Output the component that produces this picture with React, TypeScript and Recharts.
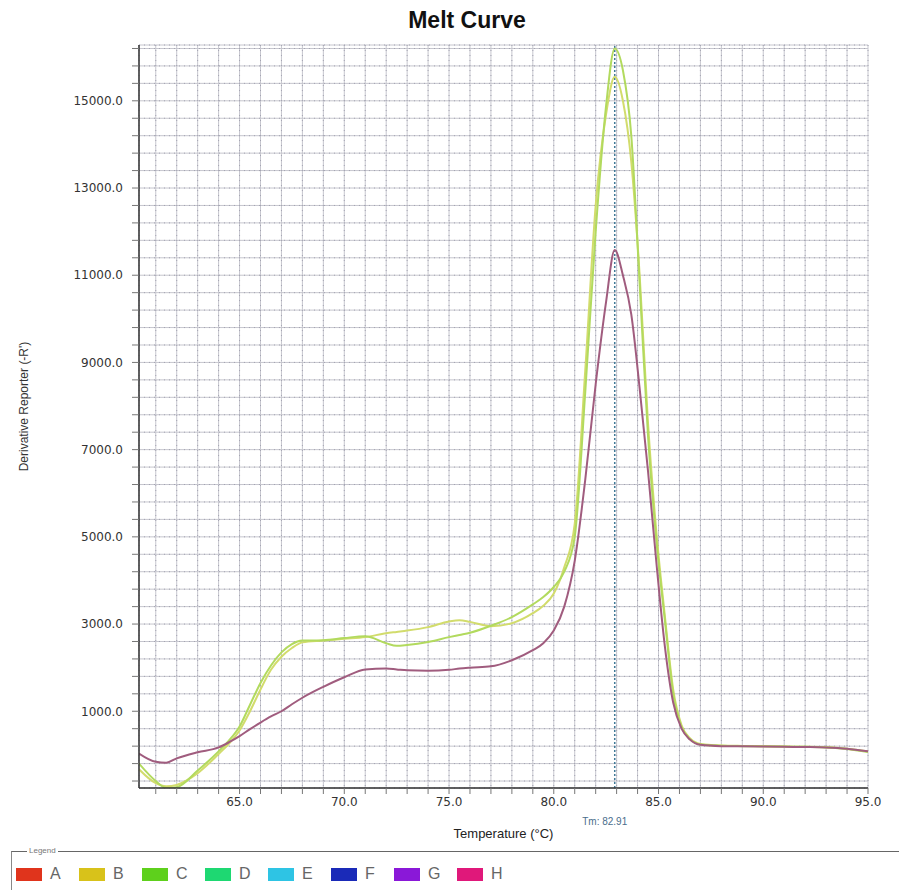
import { LineChart, Line, XAxis, YAxis, CartesianGrid, ReferenceLine } from 'recharts'

// temperature (°C) of each reading
const temps = [
  60.2, 61, 61.5, 62, 63, 64, 64.5, 65, 65.5, 66, 66.5, 67, 67.5, 68, 69, 70, 71, 72, 72.5, 73,
  74, 75, 75.5, 76, 77, 78, 79, 79.5, 80, 80.5, 81, 81.5, 82, 82.5, 82.91, 83.3, 83.7, 84.1, 84.5,
  84.9, 85.3, 85.7, 86.1, 86.5, 87, 88, 89, 90, 91, 92, 93, 94, 95
]

// derivative reporter (-R') for the three traces
const traceYellow = [
  -330, -650, -720, -690, -420, 20, 260, 560, 1000, 1500, 1950, 2250, 2450, 2580, 2620, 2660, 2700,
  2790, 2820, 2850, 2930, 3060, 3090, 3050, 2950, 3020, 3250, 3420, 3700, 4300, 5300, 8800, 12600,
  14700, 15550, 15000, 13600, 11000, 7600, 5100, 3200, 1500, 680, 380, 250, 215, 205, 200, 190, 185,
  175, 140, 75
]
const traceGreen = [
  -200, -600, -760, -740, -360, 80, 330, 650, 1150, 1650, 2050, 2350, 2540, 2620, 2630, 2680, 2720,
  2560, 2500, 2520, 2590, 2700, 2750, 2800, 2960, 3160, 3450, 3620, 3850, 4200, 5000, 8300, 12000,
  14900, 16200, 15700, 14200, 10800, 7300, 4900, 3100, 1400, 640, 360, 240, 210, 200, 195, 190, 185,
  170, 135, 65
]
const tracePurple = [
  30, -160, -180, -80, 60, 170, 290, 430, 590, 740, 880, 1000, 1160, 1310, 1560, 1780, 1960, 1980,
  1960, 1940, 1930, 1950, 1980, 2000, 2030, 2170, 2400, 2560, 2850, 3400, 4450, 6300, 8500, 10400,
  11580, 11000, 10100, 8400, 6500, 4400, 2500, 1200, 600, 350, 230, 200, 195, 190, 185, 180, 170,
  140, 80
]

const tmValue = 82.91

const xTicks = [
  61, 62, 63, 64, 65, 66, 67, 68, 69, 70, 71, 72, 73, 74, 75, 76, 77, 78, 79, 80, 81, 82, 83, 84,
  85, 86, 87, 88, 89, 90, 91, 92, 93, 94, 95
]
const xLabels = [65, 70, 75, 80, 85, 90, 95]

const yTicks = [
  -600, -200, 200, 600, 1000, 1400, 1800, 2200, 2600, 3000, 3400, 3800, 4200, 4600, 5000, 5400,
  5800, 6200, 6600, 7000, 7400, 7800, 8200, 8600, 9000, 9400, 9800, 10200, 10600, 11000, 11400,
  11800, 12200, 12600, 13000, 13400, 13800, 14200, 14600, 15000, 15400, 15800, 16200
]
const yLabels = [1000, 3000, 5000, 7000, 9000, 11000, 13000, 15000]

const wells = ['A', 'B', 'C', 'D', 'E', 'F', 'G', 'H']
const wellColors = ['#e0341c', '#d8c21a', '#5ed01c', '#1ed872', '#2ec4e4', '#1a2ab8', '#8a18d8', '#e0187a']

const rows = temps.map((t, i) => ({
  t,
  yellow: traceYellow[i],
  green: traceGreen[i],
  purple: tracePurple[i]
}))

const xDomain = [60.2, 95]
const yDomain = [-760, 16280]

const tickFont = { fontSize: 12, fill: '#333', fontFamily: 'DejaVu Sans' }
const frame = { stroke: '#333', strokeWidth: 1.5 }

function App() {
  return (
    <div
      style={{
        position: 'relative',
        marginLeft: -2,
        marginTop: -2,
        width: 905,
        height: 882,
        borderLeft: '2px solid #111',
        borderTop: '2px solid #111',
        overflow: 'hidden',
        background: '#fff',
        fontFamily: 'Liberation Sans, Arial, sans-serif'
      }}
    >
      <div
        style={{
          position: 'absolute',
          left: 459,
          top: 0,
          transform: 'translateX(-50%)',
          fontSize: 23,
          lineHeight: '24px',
          fontWeight: 'bold',
          color: '#111',
          whiteSpace: 'nowrap'
        }}
      >
        Melt Curve
      </div>

      <div style={{ position: 'absolute', left: 0, top: 0 }}>
        <LineChart width={892} height={840} data={rows} margin={{ top: 37, right: 32, bottom: 10, left: 0 }}>
          <CartesianGrid stroke="#c6c6ce" />
          <CartesianGrid stroke="#a4a4b2" strokeDasharray="1 4" />

          <XAxis
            dataKey="t"
            type="number"
            domain={xDomain}
            allowDataOverflow
            ticks={xTicks}
            interval={0}
            tickFormatter={(v: number) => (xLabels.includes(v) ? v.toFixed(1) : '')}
            height={50}
            tickSize={6}
            tickMargin={3}
            tick={tickFont}
            tickLine={{ stroke: '#777' }}
            axisLine={frame}
            label={{ value: 'Temperature (°C)', position: 'insideBottom', offset: 0, fontSize: 13, fill: '#222' }}
          />
          <XAxis xAxisId="top" orientation="top" type="number" domain={xDomain} height={0} tick={false} tickLine={false} axisLine={frame} />

          <YAxis
            type="number"
            domain={yDomain}
            allowDataOverflow
            ticks={yTicks}
            interval={0}
            tickFormatter={(v: number) => (yLabels.includes(v) ? v.toFixed(1) : '')}
            width={131}
            tickSize={7}
            tickMargin={9}
            tick={tickFont}
            tickLine={{ stroke: '#777' }}
            axisLine={frame}
            label={{
              value: "Derivative Reporter (-R')",
              angle: -90,
              position: 'insideLeft',
              offset: 16,
              dy: -10,
              fontSize: 12,
              fill: '#333',
              style: { textAnchor: 'middle' }
            }}
          />
          <YAxis yAxisId="right" orientation="right" type="number" domain={yDomain} width={0} tick={false} tickLine={false} axisLine={frame} />

          <ReferenceLine
            x={tmValue}
            stroke="#3f7896"
            strokeWidth={1.5}
            strokeDasharray="2 2"
            label={{ value: 'Tm: 82.91', position: 'bottom', offset: 30, dx: -10, fontSize: 10, fill: '#4a6e8c' }}
          />

          <Line type="monotone" dataKey="yellow" stroke="#d2dc6c" strokeWidth={2} dot={false} isAnimationActive={false} />
          <Line type="monotone" dataKey="green" stroke="#b2da5e" strokeWidth={2} dot={false} isAnimationActive={false} />
          <Line type="monotone" dataKey="purple" stroke="#a05c7e" strokeWidth={2} dot={false} isAnimationActive={false} />
        </LineChart>
      </div>

      {/* legend frame */}
      <div
        style={{
          position: 'absolute',
          left: 3,
          top: 843,
          width: 900,
          height: 40,
          borderTop: '1px solid #666',
          borderLeft: '1px solid #888'
        }}
      />
      <div
        style={{
          position: 'absolute',
          left: 19,
          top: 838,
          padding: '0 2px',
          background: '#fff',
          fontSize: 8,
          lineHeight: '10px',
          color: '#777'
        }}
      >
        Legend
      </div>
      <div style={{ position: 'absolute', left: 8, top: 857, display: 'flex' }}>
        {wells.map((w, i) => (
          <div key={w} style={{ width: 63, display: 'flex', alignItems: 'center' }}>
            <span style={{ width: 26, height: 13, background: wellColors[i], display: 'inline-block' }} />
            <span style={{ marginLeft: 8, fontSize: 16, color: '#666' }}>{w}</span>
          </div>
        ))}
      </div>
    </div>
  )
}

export default App
